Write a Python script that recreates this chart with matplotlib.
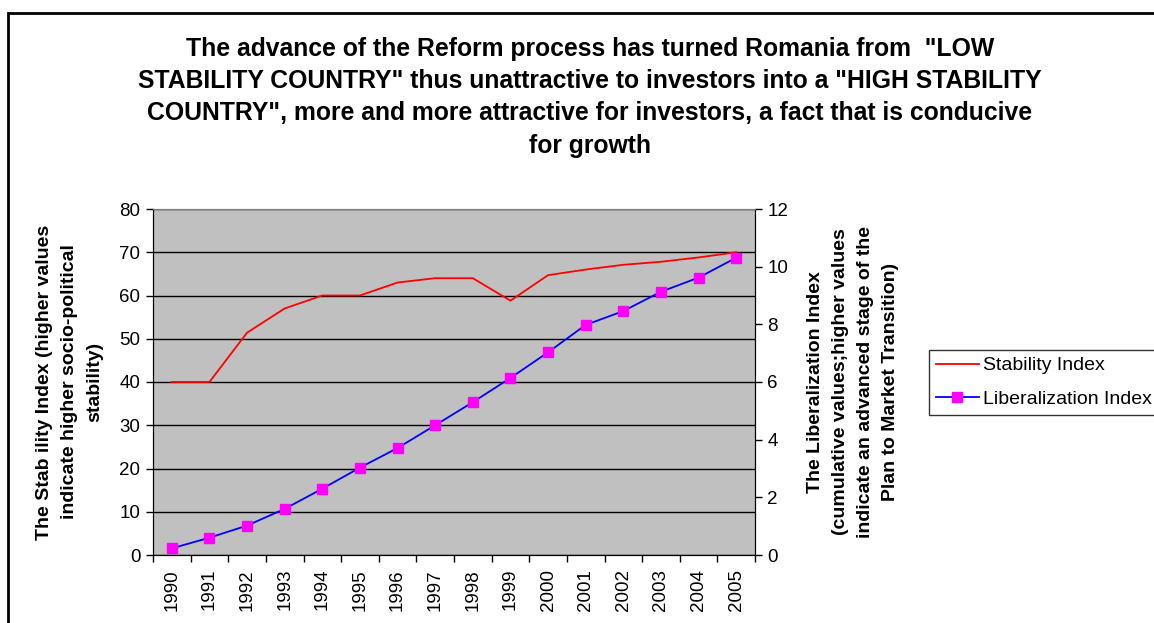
import matplotlib
matplotlib.use("Agg")
import matplotlib.pyplot as plt
from matplotlib.patches import Rectangle
from matplotlib.ticker import FixedLocator, MultipleLocator

plt.rcParams["font.family"] = ["Liberation Sans", "DejaVu Sans"]

years = [str(y) for y in range(1990, 2006)]
stability = [40, 40, 51.4, 57, 60, 60, 63, 64, 64, 58.8, 64.7, 66, 67.1, 67.8, 68.8, 70]
liberalization = [0.23, 0.60, 1.02, 1.60, 2.30, 3.03, 3.71, 4.50, 5.30, 6.14,
                  7.03, 7.98, 8.46, 9.13, 9.62, 10.31]

title = ('The advance of the Reform process has turned Romania from  "LOW\n'
         'STABILITY COUNTRY" thus unattractive to investors into a "HIGH STABILITY\n'
         'COUNTRY", more and more attractive for investors, a fact that is conducive\n'
         'for growth')
left_label = ("The Stab ility Index (higher values\n"
              "indicate higher socio-political\n"
              "stability)")
right_label = ("The Liberalization Index\n"
               "(cumulative values;higher values\n"
               "indicate an advanced stage of the\n"
               "Plan to Market Transition)")

W, H = 1154, 623
fig = plt.figure(figsize=(W / 100, H / 100), dpi=100)

# outer chart frame (runs off the right and bottom edges)
fig.add_artist(Rectangle((8 / W, -0.2), 2.0, 1.2 - 13 / H, transform=fig.transFigure,
                         fill=False, ec="black", lw=2, clip_on=False))

ax = fig.add_axes([153 / W, 1 - 555 / H, (755 - 153) / W, (555 - 209) / H])
ax.set_facecolor("#c0c0c0")
x = list(range(len(years)))

ax.set_ylim(0, 80)
ax.set_xlim(-0.5, len(years) - 0.5)
ax.yaxis.set_major_locator(MultipleLocator(10))
ax.grid(axis="y", color="black", lw=1)
ax.set_axisbelow(True)

l1, = ax.plot(x, stability, color="#ff0000", lw=1.3, label="Stability Index", zorder=3)

ax2 = ax.twinx()
ax2.set_ylim(0, 12)
ax2.yaxis.set_major_locator(MultipleLocator(2))
l2, = ax2.plot(x, liberalization, color="#0000ff", lw=1.3, marker="s", ms=7,
               mfc="#ff00ff", mec="#ff00ff", label="Liberalization Index")

ax.set_xticks(x)
ax.set_xticklabels(years, rotation=90, fontsize=13.5)
ax.xaxis.set_minor_locator(FixedLocator([i - 0.5 for i in range(len(years) + 1)]))
ax.tick_params(axis="x", which="major", length=0, pad=10)
ax.tick_params(axis="x", which="minor", length=5, width=1, direction="out")
ax.tick_params(axis="y", length=5, width=1, labelsize=13.5, pad=4)
ax2.tick_params(axis="y", length=5, width=1, labelsize=13.5, pad=4)

for a in (ax, ax2):
    for s in ("left", "right", "bottom"):
        a.spines[s].set_color("black")
    a.spines["top"].set_color("#808080")

ax.set_ylabel(left_label, fontsize=14, fontweight="bold", labelpad=12, linespacing=1.62)
ax2.set_ylabel(right_label, fontsize=14, fontweight="bold", labelpad=13.5, linespacing=1.62)

fig.text(590 / W, 1 - 37 / H, title, ha="center", va="top", fontsize=17.8,
         fontweight="bold", linespacing=1.43)

fig.legend(handles=[l1, l2], loc="upper left", bbox_to_anchor=(929 / W, 1 - 350 / H),
           frameon=True, fancybox=False, edgecolor="black", fontsize=14,
           borderaxespad=0, handlelength=2.2, borderpad=0.35, labelspacing=0.82,
           handletextpad=0.25)

fig.savefig("out.png", dpi=100)
